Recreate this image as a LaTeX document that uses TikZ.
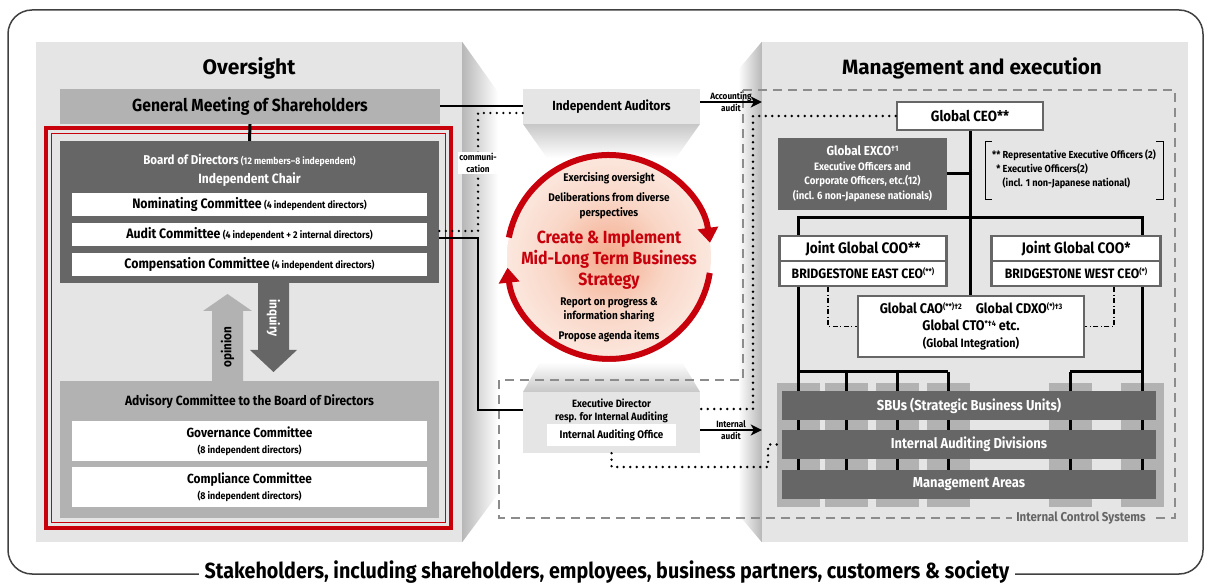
\documentclass[tikz,border=0pt]{standalone}
\usepackage{fontspec}
\setmainfont{Fira Sans}[FakeStretch=0.9]
\newfontfamily\titlefont{Fira Sans}
\usetikzlibrary{arrows.meta,calc}
\definecolor{bsred}{RGB}{200,0,12}
\definecolor{glow}{RGB}{244,170,140}
\definecolor{glowmid}{RGB}{249,214,198}
\pgfdeclareradialshading{strategyglow}{\pgfpoint{0bp}{0bp}}{color(0bp)=(glow); color(14bp)=(glowmid); color(40bp)=(white); color(50bp)=(white)}
\newcommand\fsz[2]{\fontsize{#1}{#2}\selectfont}
\newcommand\sups[1]{\raisebox{0.6ex}{\fsz{8}{8}#1}}

\begin{document}
\begin{tikzpicture}[x=1pt, y=-1pt, text centered, inner sep=0pt,
  panel/.style={fill=black!10},
  midbox/.style={fill=black!30},
  darkbox/.style={fill=black!60, text=white},
  whitebox/.style={fill=white},
  committee/.style={whitebox, minimum width=355pt, minimum height=23pt, font=\bfseries\fsz{13.7}{16}},
  framed/.style={fill=white, draw=black!60, line width=2.5pt},
  band/.style={fill=black!60, text=white, minimum width=374pt, minimum height=29pt, font=\bfseries\fsz{14.4}{16}},
  link/.style={line width=2pt},
  trunk/.style={line width=3pt},
  dotline/.style={line width=2.6pt, line cap=round, dash pattern=on 0pt off 6.5pt},
  ctrl/.style={draw=black!45, line width=1.3pt, dash pattern=on 9pt off 6pt},
  dashdotted/.style={line width=1.2pt, dash pattern=on 5pt off 2.5pt on 1pt off 2.5pt},
  smalllabel/.style={font=\bfseries\fsz{9.1}{12.5}, align=center},
  circtext/.style={font=\bfseries\fsz{11.1}{14.5}, align=center},
  auditarrow/.style={link, -{Stealth[length=11pt, width=11pt, inset=3pt]}},
  cyclearc/.style={bsred, line width=6pt, -{Triangle[length=15pt, width=20pt]}}]
\useasboundingbox (0,0) rectangle (1211,585);
\draw[black!75, line width=1.5pt, rounded corners=24pt] (8,10) rectangle (1203,574);

% the two panels
\node[panel, minimum width=426pt, minimum height=500pt] (leftpanel) at (249,292) {};
\node[panel, minimum width=426pt, minimum height=500pt] (rightpanel) at (975,292) {};
\shade[left color=black!28, right color=white] (leftpanel.north east) -- (498,92) -- (498,494) -- (leftpanel.south east) -- cycle;
\shade[left color=white, right color=black!28] (rightpanel.north west) -- (738,70) -- (738,514) -- (rightpanel.south west) -- cycle;
\node[font=\titlefont\bfseries\fsz{21}{24}] (oversight) at (249,68) {Oversight};
\node[font=\titlefont\bfseries\fsz{20.7}{24}] (mgmt) at (972,68) {Management and execution};

% oversight side
\draw[bsred, line width=4.5pt] (46,128) rectangle (451,528);
\draw[bsred, line width=1.2pt] (51.5,133.5) rectangle (445.5,522.5);
\node[midbox, minimum width=380pt, minimum height=35pt, font=\bfseries\fsz{17.5}{20}] (gms) at (250,106.5) {General Meeting of Shareholders};
\node[darkbox, minimum width=379pt, minimum height=142pt] (board) at (249.5,212) {};
\node[text=white, font=\bfseries\fsz{12.8}{16}] (bodtitle) at (249.5,160) {Board of Directors\,{\fsz{9.6}{12}(12 members--8 independent)}};
\node[text=white, font=\bfseries\fsz{13.4}{16}] (chair) at (249.5,180) {Independent Chair};
\node[committee] (nomin) at (249.5,204.5) {Nominating Committee\,{\fsz{9.8}{11}(4 independent directors)}};
\node[committee] (audit) at (249.5,234.5) {Audit Committee\,{\fsz{9.8}{11}(4 independent + 2 internal directors)}};
\node[committee] (comp) at (249.5,264.5) {Compensation Committee\,{\fsz{9.8}{11}(4 independent directors)}};
\node[midbox, minimum width=379pt, minimum height=137pt] (advisory) at (249.5,449.5) {};
\node[font=\bfseries\fsz{13.4}{15}] (advtitle) at (249.5,402) {Advisory Committee to the Board of Directors};
\node[committee, minimum height=40pt, align=center, font=\bfseries\fsz{13.2}{16}] (gov) at (249.5,441) {Governance Committee\\{\fsz{9.9}{11}(8 independent directors)}};
\node[committee, minimum height=40pt, align=center, font=\bfseries\fsz{13.2}{16}] (compl) at (249.5,487) {Compliance Committee\\{\fsz{9.9}{11}(8 independent directors)}};
\fill[black!30] (212,381) -- (212,311) -- (203,311) -- (227.5,294) -- (252,311) -- (243,311) -- (243,381) -- cycle;
\node[rotate=90, font=\bfseries\fsz{13}{15}] (opinion) at (227.5,347) {opinion};
\fill[black!60] (258,283) -- (258,350) -- (250,350) -- (273.5,372) -- (297,350) -- (289,350) -- (289,283) -- cycle;
\node[rotate=-90, text=white, font=\bfseries\fsz{13}{15}] (inquiry) at (273.5,318) {inquiry};
\draw[trunk] (gms.south) -- (board.north);

% middle
\shade[top color=black!22, bottom color=white] (523,124) -- (700,124) -- (676,158) -- (547,158) -- cycle;
\node[panel, minimum width=177pt, minimum height=35pt, font=\bfseries\fsz{13.2}{16}] (auditors) at (611.5,106.5) {Independent Auditors};
\coordinate (hub) at (609,257);
\shade[shading=strategyglow] (hub) circle[radius=102];
\draw[cyclearc] ($(hub)+(-169:102)$) arc[start angle=-169, end angle=-8, radius=102];
\draw[cyclearc] ($(hub)+(9:102)$) arc[start angle=9, end angle=174, radius=102];
\node[circtext] (exo) at (609,178) {Exercising oversight};
\node[circtext] (delib) at (609,205.5) {Deliberations from diverse\\perspectives};
\node[bsred, font=\bfseries\fsz{17.6}{21}, align=center] (strat) at (609,260) {Create \& Implement\\Mid-Long Term Business\\Strategy};
\node[circtext] (report) at (609,310) {Report on progress \&\\information sharing};
\node[circtext] (agenda) at (609,336) {Propose agenda items};
\shade[top color=white, bottom color=black!22] (540,362) -- (682,362) -- (700,392) -- (523,392) -- cycle;
\node[panel, minimum width=177pt, minimum height=61pt] (director) at (611.5,422.5) {};
\node[font=\bfseries\fsz{10.6}{13}, align=center] (dirtitle) at (611.5,410.5) {Executive Director\\resp. for Internal Auditing};
\node[whitebox, minimum width=129pt, minimum height=22pt, font=\bfseries\fsz{10.9}{13}] (office) at (611.5,435) {Internal Auditing Office};

% internal control systems
\draw[ctrl] (743,90) -- (1175,90) -- (1175,518) -- (499,518) -- (499,380) -- (743,380) -- cycle;
\node[fill=black!10, inner xsep=4pt, inner ysep=2pt, text=black!60, font=\bfseries\fsz{12.8}{14}] (ics) at (1081,518) {Internal Control Systems};

% execution side
\foreach \x in {798,846,897,948,1070,1142}
  \fill[black!30] (\x-21.5,383) rectangle (\x+21.5,507);
\node[framed, minimum width=146pt, minimum height=28pt, font=\bfseries\fsz{14.8}{18}] (ceo) at (970,116) {Global CEO**};
\node[framed, minimum width=226pt, minimum height=61pt, align=center, font=\bfseries\fsz{14}{17}] (cao) at (971,326.5) {Global CAO\sups{(**)†2}\quad Global CDXO\sups{(*)†3}\\Global CTO\sups{*†4} etc.\\{\fsz{12}{17}(Global Integration)}};
\draw[trunk] (ceo.south) -- (ceo.south |- cao.north);
\draw[trunk] (798,372) |- (1142,218) -- (1142,372);
\draw[trunk] (798,372) -- (948,372) (1070,372) -- (1142,372);
\foreach \x in {798,846,897,948,1070,1142}
  \draw[trunk] (\x,372) -- (\x,470);
\node[darkbox, minimum width=169pt, minimum height=72pt, align=center, font=\bfseries\fsz{10.7}{14.5}] (exco) at (862.5,174) {{\fsz{13}{16}Global EXCO\sups{†1}}\\Executive Officers and\\Corporate Officers, etc.(12)\\(incl. 6 non-Japanese nationals)};
\draw[trunk] (exco.east) -- (ceo.south |- exco.east);
\node[minimum width=178pt, inner ysep=8pt, font=\bfseries\fsz{10.2}{14}] (legend) at (1074,170) {\begin{tabular}{@{}r@{\ }l@{}}**&Representative Executive Officers (2)\\{*}&Executive Officers(2)\\&(incl. 1 non-Japanese national)\end{tabular}};
\draw[thin] ([xshift=7pt]legend.north west) -- (legend.north west) -- (legend.south west) -- ([xshift=7pt]legend.south west);
\draw[thin] ([xshift=-7pt]legend.north east) -- (legend.north east) -- (legend.south east) -- ([xshift=-7pt]legend.south east);
\node[framed, minimum width=167pt, minimum height=25pt, font=\bfseries\fsz{15.2}{17}] (cooeast) at (863,248.5) {Joint Global COO**};
\node[framed, minimum width=167pt, minimum height=25pt, font=\bfseries\fsz{13.6}{15}] (eastceo) at (863,273.5) {BRIDGESTONE EAST CEO\sups{(**)}};
\node[framed, minimum width=169pt, minimum height=25pt, font=\bfseries\fsz{15.2}{17}] (coowest) at (1076,248.5) {Joint Global COO*};
\node[framed, minimum width=169pt, minimum height=25pt, font=\bfseries\fsz{13.6}{15}] (westceo) at (1076,273.5) {BRIDGESTONE WEST CEO\sups{(*)}};
\draw[dashdotted] (eastceo.south -| 828,0) |- (cao.west);
\draw[dashdotted] (westceo.south -| 1114,0) |- (cao.east);
\node[band] (sbu) at (969,406) {SBUs (Strategic Business Units)};
\node[band] (iad) at (969,444.5) {Internal Auditing Divisions};
\node[band] (areas) at (969,484.5) {Management Areas};

% connectors across the middle
\draw[link] (gms.east) -- (auditors.west);
\draw[dotline] ([yshift=-6.5pt]auditors.west) -| (478,231) -- (board.east |- 0,231);
\node[fill=white, smalllabel, inner sep=1pt] (comm) at (478,163) {communi-\\cation};
\draw[link] (board.east |- 0,238) -| (478,410) -- (director.west |- 0,410);
\draw[auditarrow] ([yshift=4.5pt]auditors.east) -- (rightpanel.west |- 0,102) node[midway, smalllabel] (acclabel) {Accounting\\audit};
\draw[dotline] (ceo.west) -| (753,409) -- (director.east |- 0,409);
\draw[auditarrow] (director.east |- 0,430) -- (rightpanel.west |- 0,430) node[midway, smalllabel] (intlabel) {Internal\\audit};
\draw[dotline] (director.south) |- (768,467) |- (iad.west);

\node[fill=white, inner xsep=6pt, inner ysep=1pt, anchor=base, font=\bfseries\fsz{21.9}{24}] (stake) at (607,578.5) {Stakeholders, including shareholders, employees, business partners, customers \& society};
\end{tikzpicture}
\end{document}
